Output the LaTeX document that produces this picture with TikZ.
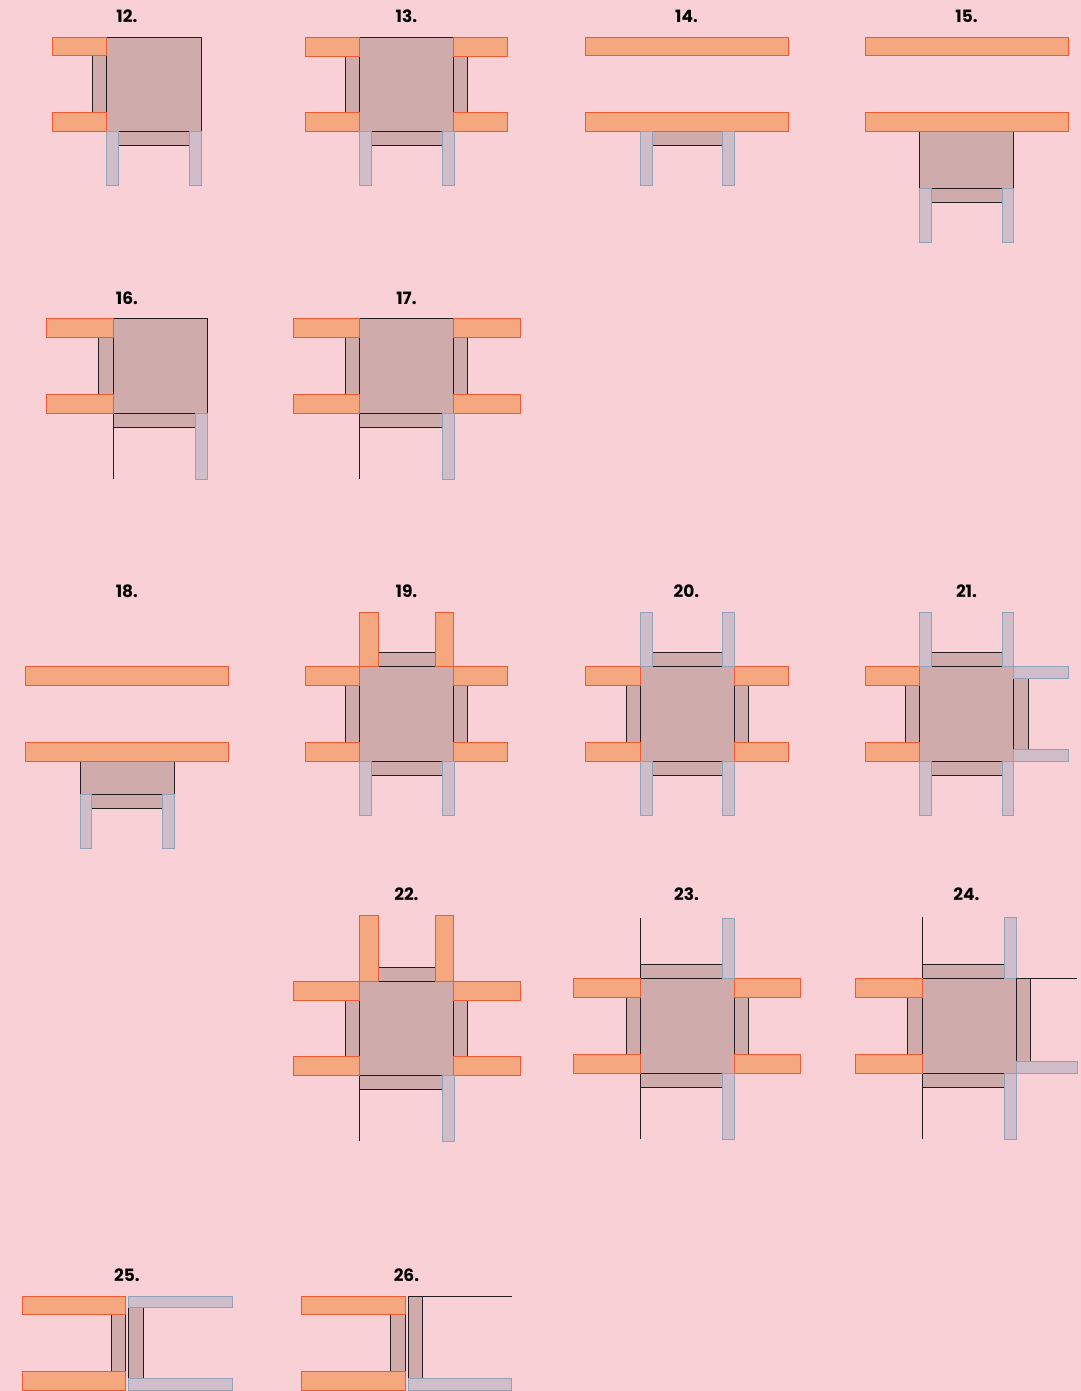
\documentclass[tikz,border=0pt]{standalone}
\usepackage{fontspec}
\setmainfont{Poppins}
\definecolor{pagebg}{HTML}{F9D0D6}
\definecolor{seatfill}{HTML}{F5A77F}
\definecolor{seatline}{HTML}{EE5A32}
\definecolor{woodfill}{HTML}{CFABAB}
\definecolor{woodline}{HTML}{231F20}
\definecolor{legfill}{HTML}{CFBDCA}
\definecolor{legline}{HTML}{8FA3B8}
\tikzset{
  seat/.style={draw=seatline, fill=seatfill, line width=0.9pt},
  wood/.style={draw=woodline, fill=woodfill, line width=0.9pt},
  leg/.style={draw=legline, fill=legfill, line width=0.9pt},
  bareline/.style={draw=woodline, line width=0.9pt},
  numlabel/.style={font=\bfseries\fontsize{17}{19}\selectfont, text=black, inner sep=0pt}
}

\begin{document}
\begin{tikzpicture}[x=1pt, y=-1pt]
    \useasboundingbox (0.1,0.1) rectangle (1081,1391);
    \fill[pagebg] (0,0) rectangle (1082,1392);

    % Numbers
    \foreach \n/\x/\y in {12/127/16, 13/406.5/16, 14/686.5/16, 15/966.5/16,
                          16/127/298, 17/406.5/298,
                          18/127/591, 19/406.5/591, 20/686.5/591, 21/966.5/591,
                          22/406.5/894, 23/686.5/894, 24/966.5/894,
                          25/127/1275, 26/406.5/1275}
        \node[numlabel] (num\n) at (\x,\y) {\n.};

    % 12
    \draw[wood] (107,37.5) rectangle (201.5,132);
    \draw[wood] (93,56) rectangle (107,113);
    \draw[wood] (119,132) rectangle (190,146);
    \draw[seat] (53,37.5) rectangle (107,56);
    \draw[seat] (53,113) rectangle (107,132);
    \draw[leg] (107,132) rectangle (119,185.5);
    \draw[leg] (190,132) rectangle (201.5,185.5);

    % 13
    \draw[wood] (360,37.5) rectangle (454,132);
    \draw[wood] (346,56) rectangle (360,113);
    \draw[wood] (454,56) rectangle (468,113);
    \draw[wood] (372,132) rectangle (443,146);
    \foreach \y in {37.5, 113} {
        \draw[seat] (306,\y) rectangle (360,\y+19);
        \draw[seat] (454,\y) rectangle (508,\y+19);
    }
    \draw[leg] (360,132) rectangle (372,185.5);
    \draw[leg] (443,132) rectangle (454.5,185.5);

    % 14
    \draw[wood] (652,132) rectangle (722,146);
    \draw[seat] (585.5,37.5) rectangle (788,56);
    \draw[seat] (585.5,113) rectangle (788,132);
    \draw[leg] (640,132) rectangle (652,185.5);
    \draw[leg] (722,132) rectangle (734,185.5);

    % 15
    \draw[wood] (919.5,132) rectangle (1013.5,189);
    \draw[wood] (931,189) rectangle (1002,203);
    \draw[seat] (865.5,37.5) rectangle (1068,56);
    \draw[seat] (865.5,113) rectangle (1068,132);
    \draw[leg] (919.5,189) rectangle (931,242.5);
    \draw[leg] (1002,189) rectangle (1013.5,242.5);

    % 16
    \draw[wood] (113.5,319) rectangle (208,413.5);
    \draw[wood] (99,337.5) rectangle (113.5,394.5);
    \draw[wood] (113.5,413.5) rectangle (196,427.5);
    \draw[seat] (47,319) rectangle (113.5,337.5);
    \draw[seat] (47,394.5) rectangle (113.5,413.5);
    \draw[leg] (196,413.5) rectangle (208,479.5);
    \draw[bareline] (113.5,427.5) -- (113.5,479.5);

    % 17
    \draw[wood] (360,319) rectangle (454,413.5);
    \draw[wood] (346,337.5) rectangle (360,394.5);
    \draw[wood] (454,337.5) rectangle (468,394.5);
    \draw[wood] (360,413.5) rectangle (443,427.5);
    \foreach \y in {319, 394.5} {
        \draw[seat] (293.5,\y) rectangle (360,\y+19);
        \draw[seat] (454,\y) rectangle (521,\y+19);
    }
    \draw[leg] (443,413.5) rectangle (454.5,479.5);
    \draw[bareline] (360,427.5) -- (360,479.5);

    % 18
    \draw[wood] (80.5,761) rectangle (175,794);
    \draw[wood] (92,794) rectangle (163,808);
    \draw[seat] (26,666.5) rectangle (229,685);
    \draw[seat] (26,742) rectangle (229,761);
    \draw[leg] (80.5,794) rectangle (92,848);
    \draw[leg] (163,794) rectangle (175,848);

    % 19
    \draw[wood] (360,666.5) rectangle (454,761);
    \draw[wood] (379,652.5) rectangle (435.5,666.5);
    \draw[wood] (346,685) rectangle (360,742);
    \draw[wood] (454,685) rectangle (468,742);
    \draw[wood] (372,761) rectangle (443,775);
    \foreach \y in {666.5, 742} {
        \draw[seat] (306,\y) rectangle (360,\y+19);
        \draw[seat] (454,\y) rectangle (508,\y+19);
    }
    \draw[seat] (360,612.5) rectangle (379,666.5);
    \draw[seat] (435.5,612.5) rectangle (454,666.5);
    \draw[leg] (360,761) rectangle (372,815);
    \draw[leg] (443,761) rectangle (454.5,815);

    % 20
    \draw[wood] (640,666.5) rectangle (734,761);
    \draw[wood] (652,652.5) rectangle (722,666.5);
    \draw[wood] (626,685) rectangle (640,742);
    \draw[wood] (734,685) rectangle (748,742);
    \draw[wood] (652,761) rectangle (722,775);
    \foreach \y in {666.5, 742} {
        \draw[seat] (585.5,\y) rectangle (640,\y+19);
        \draw[seat] (734,\y) rectangle (788,\y+19);
    }
    \foreach \x in {640, 722} {
        \draw[leg] (\x,612.5) rectangle (\x+12,666.5);
        \draw[leg] (\x,761) rectangle (\x+12,815);
    }

    % 21
    \draw[wood] (919.5,666.5) rectangle (1013.5,761);
    \draw[wood] (931,652.5) rectangle (1002,666.5);
    \draw[wood] (905.5,685) rectangle (919.5,742);
    \draw[wood] (1013.5,678) rectangle (1028,749.5);
    \draw[wood] (931,761) rectangle (1002,775);
    \draw[seat] (865.5,666.5) rectangle (919.5,685);
    \draw[seat] (865.5,742) rectangle (919.5,761);
    \foreach \x in {919.5, 1002} {
        \draw[leg] (\x,612.5) rectangle (\x+11.5,666.5);
        \draw[leg] (\x,761) rectangle (\x+11.5,815);
    }
    \draw[leg] (1013.5,666.5) rectangle (1068,678);
    \draw[leg] (1013.5,749.5) rectangle (1068,761);

    % 22
    \draw[wood] (360,981) rectangle (454,1075.5);
    \draw[wood] (379,967) rectangle (435.5,981);
    \draw[wood] (346,1000) rectangle (360,1056.5);
    \draw[wood] (454,1000) rectangle (468,1056.5);
    \draw[wood] (360,1075.5) rectangle (442.5,1089.5);
    \foreach \y in {981, 1056.5} {
        \draw[seat] (293.5,\y) rectangle (360,\y+19);
        \draw[seat] (454,\y) rectangle (521,\y+19);
    }
    \draw[seat] (360,915) rectangle (379,981);
    \draw[seat] (435.5,915) rectangle (454,981);
    \draw[leg] (442.5,1075.5) rectangle (454.5,1141.5);
    \draw[bareline] (360,1089.5) -- (360,1141.5);

    % 23
    \draw[wood] (640,978.5) rectangle (734,1073);
    \draw[wood] (640,964.5) rectangle (722,978.5);
    \draw[wood] (626,997.5) rectangle (640,1054);
    \draw[wood] (734,997.5) rectangle (748,1054);
    \draw[wood] (640,1073) rectangle (722,1087);
    \foreach \y in {978.5, 1054} {
        \draw[seat] (573.5,\y) rectangle (640,\y+19);
        \draw[seat] (734,\y) rectangle (800.5,\y+19);
    }
    \draw[leg] (722,918) rectangle (734,978.5);
    \draw[leg] (722,1073) rectangle (734,1139.5);
    \draw[bareline] (640,918) -- (640,964.5);
    \draw[bareline] (640,1087) -- (640,1139.5);

    % 24
    \draw[wood] (922,978.5) rectangle (1016,1073);
    \draw[wood] (922,964) rectangle (1004.5,978.5);
    \draw[wood] (907.5,997.5) rectangle (922,1054);
    \draw[wood] (1016,978.5) rectangle (1030.5,1061);
    \draw[wood] (922,1073) rectangle (1004.5,1087);
    \draw[seat] (855.5,978.5) rectangle (922,997.5);
    \draw[seat] (855.5,1054) rectangle (922,1073);
    \draw[leg] (1004.5,917.5) rectangle (1016,978.5);
    \draw[leg] (1004.5,1073) rectangle (1016,1139.5);
    \draw[leg] (1016,1061) rectangle (1077.5,1073);
    \draw[bareline] (922,917.5) -- (922,964);
    \draw[bareline] (922,1087) -- (922,1139.5);
    \draw[bareline] (1016,978.5) -- (1077.5,978.5);

    % 25
    \draw[wood] (111.5,1314.5) rectangle (126,1371);
    \draw[wood] (129,1307.5) rectangle (143.5,1378.5);
    \draw[seat] (22.5,1296) rectangle (126,1314.5);
    \draw[seat] (22.5,1371) rectangle (126,1390);
    \draw[leg] (129,1296) rectangle (232.5,1307.5);
    \draw[leg] (129,1378.5) rectangle (232.5,1390.5);

    % 26
    \draw[wood] (391,1314.5) rectangle (406,1371);
    \draw[wood] (409,1296) rectangle (423,1378.5);
    \draw[seat] (302,1296) rectangle (406,1314.5);
    \draw[seat] (302,1371) rectangle (406,1390);
    \draw[leg] (409,1378.5) rectangle (512,1390.5);
    \draw[bareline] (409,1296) -- (512,1296);
\end{tikzpicture}
\end{document}
